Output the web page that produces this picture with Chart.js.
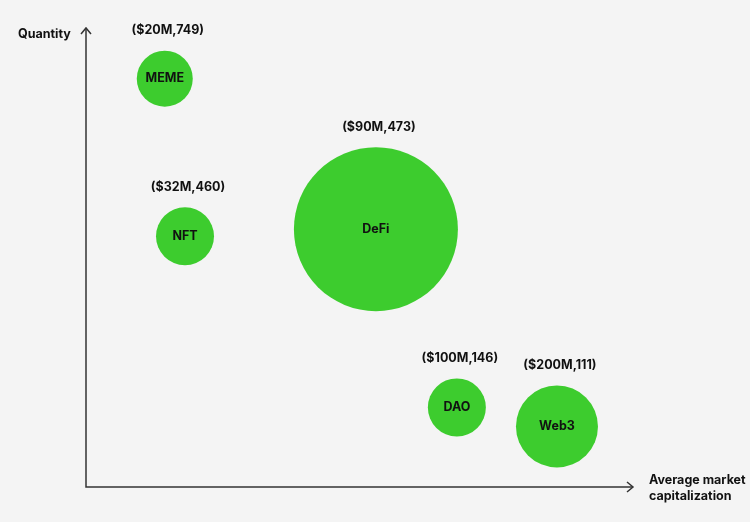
<!DOCTYPE html>
<html>
<head>
<meta charset="utf-8">
<script src="https://cdn.jsdelivr.net/npm/chart.js@4.4.0/dist/chart.umd.min.js"></script>
<style>
    html, body { margin: 0; padding: 0; background: #f4f4f4; }
    #wrap { width: 750px; height: 522px; }
</style>
</head>
<body>
<div id="wrap"><canvas id="bubbleChart" width="750" height="522"></canvas></div>
<script>
var categories = ['MEME', 'NFT', 'DeFi', 'DAO', 'Web3'];
var marketCapLabels = ['$20M', '$32M', '$90M', '$100M', '$200M'];
var quantities = [749, 460, 473, 146, 111];
// x axis has no ticks, so horizontal placement (0-100) is read off the picture
var xPlacement = [14.4, 18.1, 53, 67.8, 86.1];
// bubble radius in px
var bubbleSizes = [28, 29, 82, 29, 41];

var green = '#3dcc2e';
var ink = '#111111';
var axisColor = '#333333';
var fontFamily = 'Inter, "Noto Sans", sans-serif';

// Draw axes with arrow heads, titles and bubble labels
var annotatePlugin = {
    id: 'annotate',
    afterDatasetsDraw: function(chart) {
        var ctx = chart.ctx;
        var area = chart.chartArea;
        ctx.save();

        // axes
        ctx.strokeStyle = axisColor;
        ctx.lineWidth = 1.5;
        ctx.beginPath();
        ctx.moveTo(area.left, area.top);
        ctx.lineTo(area.left, area.bottom);
        ctx.lineTo(area.right, area.bottom);
        ctx.stroke();

        // arrow heads
        ctx.beginPath();
        ctx.moveTo(area.left - 5, area.top + 6);
        ctx.lineTo(area.left, area.top);
        ctx.lineTo(area.left + 5, area.top + 6);
        ctx.moveTo(area.right - 6, area.bottom - 5);
        ctx.lineTo(area.right, area.bottom);
        ctx.lineTo(area.right - 6, area.bottom + 5);
        ctx.stroke();

        // axis titles
        ctx.fillStyle = ink;
        ctx.font = 'bold 12.5px ' + fontFamily;
        ctx.textAlign = 'left';
        ctx.textBaseline = 'middle';
        ctx.fillText('Quantity', 18, 34);
        ctx.fillText('Average market', 649, 480);
        ctx.fillText('capitalization', 649, 496);

        // bubble labels
        var meta = chart.getDatasetMeta(0);
        meta.data.forEach(function(pt, i) {
            var r = bubbleSizes[i];
            ctx.textAlign = 'center';
            ctx.fillText(categories[i], pt.x, pt.y);
            ctx.fillText('(' + marketCapLabels[i] + ',' + quantities[i] + ')', pt.x + 3, pt.y - r - 20);
        });

        ctx.restore();
    }
};

var ctx1 = document.getElementById('bubbleChart').getContext('2d');
var bubbleChart = new Chart(ctx1, {
    type: 'bubble',
    data: {
        datasets: [{
            label: 'Quantity',
            data: categories.map(function(c, i) {
                return { x: xPlacement[i], y: quantities[i], r: bubbleSizes[i] };
            }),
            backgroundColor: green,
            borderWidth: 0,
            hoverRadius: 0,
            clip: false
        }]
    },
    options: {
        responsive: false,
        animation: false,
        events: [],
        layout: {
            autoPadding: false,
            padding: { left: 86, right: 117, top: 28, bottom: 35 }
        },
        plugins: {
            legend: { display: false },
            tooltip: { enabled: false }
        },
        scales: {
            x: { type: 'linear', min: 0, max: 100, display: false },
            y: { type: 'linear', min: 0, max: 842, display: false }
        }
    },
    plugins: [annotatePlugin]
});
</script>
</body>
</html>
